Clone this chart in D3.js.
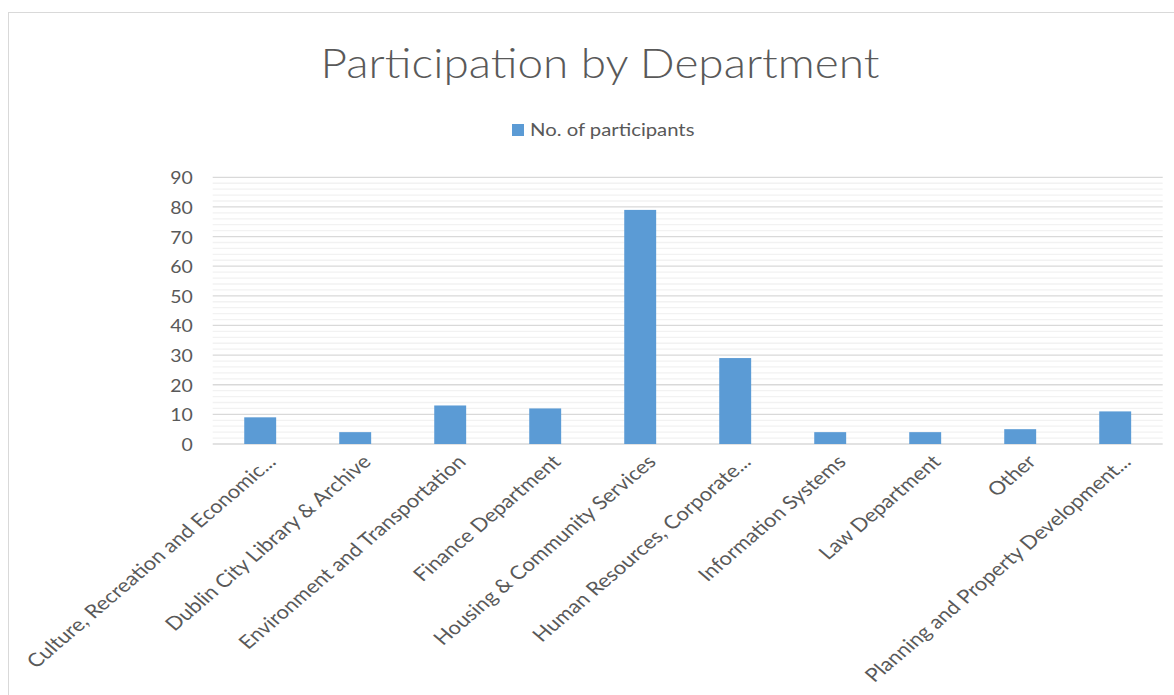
<!DOCTYPE html>
<html>
<head>
<meta charset="utf-8">
<script src="https://cdn.jsdelivr.net/npm/d3@7"></script>
<style>
  html, body { margin: 0; padding: 0; background: #fff; }
  svg { display: block; font-family: Lato, "Open Sans", sans-serif; }
</style>
</head>
<body>
<svg id="chart" width="1174" height="695"></svg>
<script>
// Departments and participant counts
const departments = [
  "Culture, Recreation and Economic...",
  "Dublin City Library & Archive",
  "Environment and Transportation",
  "Finance Department",
  "Housing & Community Services",
  "Human Resources, Corporate...",
  "Information Systems",
  "Law Department",
  "Other",
  "Planning and Property Development..."
];
const participants = [9, 4, 13, 12, 79, 29, 4, 4, 5, 11];
const yTicks = [0, 10, 20, 30, 40, 50, 60, 70, 80, 90];
const minorTicks = d3.range(0, 91, 2);
const seriesName = "No. of participants";
const chartTitle = "Participation by Department";

const svg = d3.select("#chart");
const W = 1174, H = 695;
const plot = { left: 212.7, right: 1162.7, top: 177.3, bottom: 444 };
const barColor = "#5b9bd5";
const textColor = "#595959";
// horizontal stretch applied to the slanted category labels
const stretch = 1.17;

// Chart frame
svg.append("rect")
  .attr("x", 8.5).attr("y", 12.5)
  .attr("width", W).attr("height", H)
  .attr("fill", "#fff").attr("stroke", "#d9d9d9").attr("stroke-width", 1);

const x = d3.scaleBand()
  .domain(departments)
  .range([plot.left, plot.right])
  .paddingInner(0.664)
  .paddingOuter(0.332);

const y = d3.scaleLinear()
  .domain([0, 90])
  .range([plot.bottom, plot.top]);

// Minor gridlines
svg.append("g").selectAll("line")
  .data(minorTicks.filter(v => v % 10 !== 0))
  .join("line")
  .attr("x1", plot.left).attr("x2", plot.right)
  .attr("y1", d => y(d)).attr("y2", d => y(d))
  .attr("stroke", "#f2f2f2").attr("stroke-width", 1.3);

// Major gridlines
svg.append("g").selectAll("line")
  .data(yTicks)
  .join("line")
  .attr("x1", plot.left).attr("x2", plot.right)
  .attr("y1", d => y(d)).attr("y2", d => y(d))
  .attr("stroke", "#d9d9d9").attr("stroke-width", 1.3);

// Y axis labels
const yAxis = d3.axisLeft(y).tickValues(yTicks).tickSize(0).tickPadding(0);
const yg = svg.append("g")
  .attr("transform", `translate(${plot.left - 20},0)`)
  .call(yAxis);
yg.select(".domain").remove();
yg.selectAll("text")
  .attr("fill", textColor)
  .style("font-size", "18px")
  .style("font-family", "Lato, 'Open Sans', sans-serif")
  .attr("dy", "0.36em")
  .attr("transform", "scale(1.08,1)");

// Bars
svg.append("g").selectAll("rect")
  .data(departments.map((d, i) => ({ name: d, value: participants[i] })))
  .join("rect")
  .attr("x", d => x(d.name))
  .attr("width", x.bandwidth())
  .attr("y", d => y(d.value))
  .attr("height", d => y(0) - y(d.value))
  .attr("fill", barColor);

// X axis labels, slanted
const xAxis = d3.axisBottom(x).tickSize(0).tickPadding(0);
const xg = svg.append("g")
  .attr("transform", `translate(0,${plot.bottom})`)
  .call(xAxis);
xg.select(".domain").remove();
xg.selectAll("text")
  .attr("fill", textColor)
  .style("font-size", "18.8px")
  .style("font-family", "Lato, 'Open Sans', sans-serif")
  .attr("text-anchor", "end")
  .attr("dy", null)
  .attr("y", 0)
  .attr("transform", `translate(17,19) scale(${stretch},1) rotate(-45)`);

// Title
svg.append("text")
  .attr("transform", "translate(600,78) scale(1.12,1)")
  .attr("text-anchor", "middle")
  .attr("fill", textColor)
  .style("font-size", "41px")
  .style("font-weight", 300)
  .text(chartTitle);

// Legend
const lg = svg.append("g").attr("transform", "translate(512,124)");
lg.append("rect").attr("width", 12).attr("height", 12).attr("fill", barColor);
lg.append("text")
  .attr("transform", "translate(18,12) scale(1.16,1)")
  .attr("fill", textColor)
  .style("font-size", "17.5px")
  .text(seriesName);
</script>
</body>
</html>
